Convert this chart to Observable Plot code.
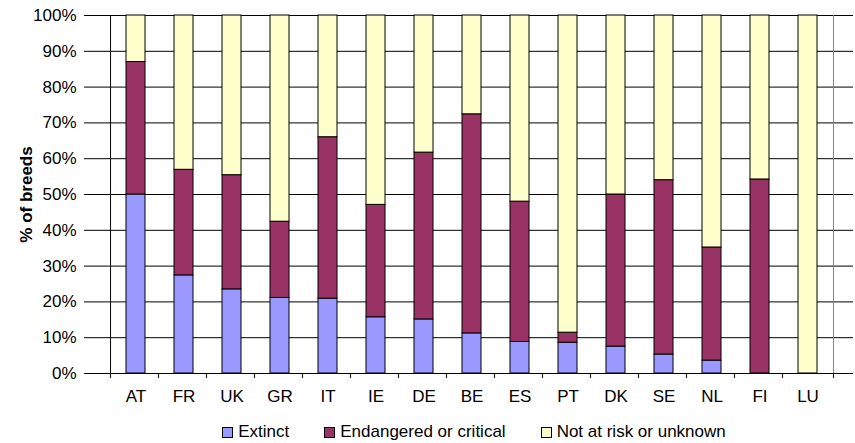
<!DOCTYPE html>
<html>
<head>
<meta charset="utf-8">
<script src="https://cdn.jsdelivr.net/npm/d3@7"></script>
<script src="https://cdn.jsdelivr.net/npm/@observablehq/plot@0.6"></script>
<style>
  body { margin: 0; background: #fff; font-family: "Liberation Sans", Arial, sans-serif; }
  #chart svg { display: block; }
  #chart g[aria-label="y-axis label"] text { font-weight: bold; }
  .legend { display: flex; align-items: center; justify-content: center; padding-left: 95px; padding-right: 2px; margin-top: 9px; font-size: 17px; line-height: 20px; color: #000; gap: 35px; }
  .legend span.item { display: flex; align-items: center; }
  .legend span.sw { width: 9px; height: 9px; border: 1px solid #000; margin-right: 5px; display: inline-block; }
</style>
</head>
<body>
<div id="chart"></div>
<script>
const countries = ["AT","FR","UK","GR","IT","IE","DE","BE","ES","PT","DK","SE","NL","FI","LU"];
const seriesNames = ["Extinct", "Endangered or critical", "Not at risk or unknown"];
const seriesColors = ["#9999FF", "#993366", "#FFFFCC"];
const extinct =    [50.0, 27.4, 23.5, 21.1, 20.9, 15.7, 15.1, 11.2, 8.8, 8.6, 7.5, 5.3, 3.6, 0, 0];
const endangered = [37.0, 29.5, 31.9, 21.3, 45.1, 31.4, 46.6, 61.2, 39.2, 2.8, 42.5, 48.7, 31.6, 54.2, 0];
const notAtRisk = countries.map((c, i) => +(100 - extinct[i] - endangered[i]).toFixed(1));
const yTicks = d3.range(0, 101, 10);

const data = [];
countries.forEach((c, i) => {
  data.push({country: c, series: seriesNames[0], value: extinct[i]});
  data.push({country: c, series: seriesNames[1], value: endangered[i]});
  data.push({country: c, series: seriesNames[2], value: notAtRisk[i]});
});

const W = 855, H = 413, ML = 89, MR = 2, MT = 15, MB = 40;
const step = (W - ML - MR) / countries.length;

const chart = Plot.plot({
  width: W, height: H,
  marginLeft: ML, marginRight: MR, marginTop: MT, marginBottom: MB,
  style: {fontFamily: '"Liberation Sans", Arial, sans-serif', fontSize: "17px", color: "#000", background: "#fff"},
  x: {domain: countries, padding: 0.607, label: null},
  y: {domain: [0, 100], label: null},
  color: {domain: seriesNames, range: seriesColors},
  marks: [
    Plot.gridY(yTicks, {stroke: "#000", strokeOpacity: 1, strokeWidth: 1}),
    Plot.ruleX([countries[countries.length - 1]], {dx: step / 2, stroke: "#808080"}),
    Plot.barY(data, {x: "country", y: "value", fill: "series", order: seriesNames, stroke: "#000", strokeWidth: 1}),
    Plot.ruleY([0], {stroke: "#000"}),
    Plot.ruleX([countries[0]], {dx: -step / 2, stroke: "#000"}),
    Plot.ruleX(countries, {x: d => d, dx: -step / 2, y1: 0, y2: 0, insetBottom: -5, stroke: "#000"}),
    Plot.ruleX([countries[countries.length - 1]], {dx: step / 2, y1: 0, y2: 0, insetBottom: -5, stroke: "#000"}),
    Plot.axisY({ticks: yTicks, tickFormat: d => d + "%", tickSize: 5, tickPadding: 8, fontSize: 17,
      label: "% of breeds", labelAnchor: "center", labelOffset: 70, labelArrow: "none"}),
    Plot.axisX({tickSize: 0, tickPadding: 16, fontSize: 17})
  ]
});
document.getElementById("chart").appendChild(chart);
</script>
<div class="legend" id="legend"></div>
<script>
const lg = document.getElementById("legend");
seriesNames.forEach((s, i) => {
  const it = document.createElement("span"); it.className = "item";
  const sw = document.createElement("span"); sw.className = "sw"; sw.style.background = seriesColors[i];
  const tx = document.createElement("span"); tx.textContent = s;
  it.appendChild(sw); it.appendChild(tx); lg.appendChild(it);
});
</script>
</body>
</html>
